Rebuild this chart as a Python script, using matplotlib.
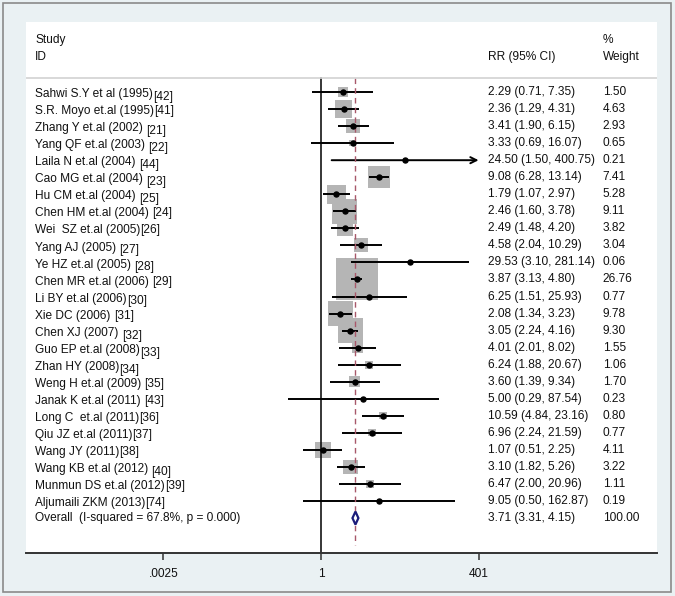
import numpy as np
import matplotlib.pyplot as plt
from matplotlib.patches import Polygon, Rectangle

plt.rcParams['font.family'] = ['Liberation Sans', 'DejaVu Sans']

studies = ["Sahwi S.Y et al (1995)", "S.R. Moyo et.al (1995)", "Zhang Y et.al (2002) ",
           "Yang QF et.al (2003) ", "Laila N et.al (2004) ", "Cao MG et.al (2004) ",
           "Hu CM et.al (2004) ", "Chen HM et.al (2004) ", "Wei  SZ et.al (2005)",
           "Yang AJ (2005) ", "Ye HZ et.al (2005) ", "Chen MR et.al (2006) ",
           "Li BY et.al (2006)", "Xie DC (2006) ", "Chen XJ (2007) ",
           "Guo EP et.al (2008)", "Zhan HY (2008)", "Weng H et.al (2009) ",
           "Janak K et.al (2011) ", "Long C  et.al (2011)", "Qiu JZ et.al (2011)",
           "Wang JY (2011)", "Wang KB et.al (2012) ", "Munmun DS et.al (2012)",
           "Aljumaili ZKM (2013)"]
refs = ["[42]", "[41]", "[21]", "[22]", "[44]", "[23]", "[25]", "[24]", "[26]", "[27]",
        "[28]", "[29]", "[30]", "[31]", "[32]", "[33]", "[34]", "[35]", "[43]", "[36]",
        "[37]", "[38]", "[40]", "[39]", "[74]"]
# which reference numbers sit a bit below the baseline
ref_low = [1, 0, 1, 1, 1, 1, 1, 0, 0, 1, 1, 0, 1, 0, 1, 1, 1, 0, 0, 0, 0, 0, 1, 0, 0]

rr = [2.29, 2.36, 3.41, 3.33, 24.50, 9.08, 1.79, 2.46, 2.49, 4.58, 29.53, 3.87, 6.25,
      2.08, 3.05, 4.01, 6.24, 3.60, 5.00, 10.59, 6.96, 1.07, 3.10, 6.47, 9.05]
lo = [0.71, 1.29, 1.90, 0.69, 1.50, 6.28, 1.07, 1.60, 1.48, 2.04, 3.10, 3.13, 1.51,
      1.34, 2.24, 2.01, 1.88, 1.39, 0.29, 4.84, 2.24, 0.51, 1.82, 2.00, 0.50]
hi = [7.35, 4.31, 6.15, 16.07, 400.75, 13.14, 2.97, 3.78, 4.20, 10.29, 281.14, 4.80, 25.93,
      3.23, 4.16, 8.02, 20.67, 9.34, 87.54, 23.16, 21.59, 2.25, 5.26, 20.96, 162.87]
weight = [1.50, 4.63, 2.93, 0.65, 0.21, 7.41, 5.28, 9.11, 3.82, 3.04, 0.06, 26.76, 0.77,
          9.78, 9.30, 1.55, 1.06, 1.70, 0.23, 0.80, 0.77, 4.11, 3.22, 1.11, 0.19]

overall_label = "Overall  (I-squared = 67.8%, p = 0.000)"
overall_rr, overall_lo, overall_hi = 3.71, 3.31, 4.15

tick_vals = [0.0025, 1, 401]
tick_labels = [".0025", "1", "401"]
ci_cap = 400  # CIs beyond this get an arrow

bg = "#eaf1f3"
fs = 8.6

fig = plt.figure(figsize=(6.75, 5.96), dpi=100, facecolor=bg)
fig.patches.append(Rectangle((3 / 675, 4 / 596), 668 / 675, 589 / 596, transform=fig.transFigure,
                             fill=False, edgecolor="#8a8a8a", linewidth=1.2))
ax = fig.add_axes([26 / 675, 43 / 596, 631 / 675, 531 / 596])
ax.set_facecolor("white")

n = len(rr)
rows = np.arange(n)
ax.set_xscale("log")
ax.set_xlim(np.exp(-11.22), np.exp(12.78))
ax.set_ylim(27.05, -4.11)

# boxes, CI lines, points
ax.scatter(rr, rows, s=np.array(weight) * 34.2, marker="s", color="#b5b5b5", linewidths=0, zorder=1)
for i in range(n):
    if hi[i] > ci_cap:
        ax.annotate("", xy=(tick_vals[-1], i), xytext=(lo[i], i),
                    arrowprops=dict(arrowstyle="->", lw=1.4, color="black", mutation_scale=11,
                                    shrinkA=0, shrinkB=0), zorder=2)
    else:
        ax.plot([lo[i], hi[i]], [i, i], color="black", lw=1.4, solid_capstyle="butt", zorder=2)
ax.plot(rr, rows, "o", color="black", ms=3.6, zorder=3)

# overall diamond and reference lines
ax.plot([1, 1], [-0.82, 27.05], color="black", lw=1.1, zorder=2)
ax.plot([overall_rr, overall_rr], [-0.82, 26.6], color="#a8586a", lw=1, ls=(0, (4, 3)), zorder=2)
dh = 0.38
diamond = Polygon([[overall_lo, n], [overall_rr, n - dh], [overall_hi, n], [overall_rr, n + dh]],
                  closed=True, facecolor="white", edgecolor="#1c1c7a", lw=1.6, zorder=4)
ax.add_patch(diamond)

# header line
ax.axhline(-0.82, color="#d2d2d2", lw=1.2)

tr = ax.get_yaxis_transform()
tc = "#111111"
x_lab, x_rr, x_w = 0.0143, 0.732, 0.914
ax.text(x_lab, -3.05, "Study", transform=tr, fontsize=fs, va="center", color=tc)
ax.text(x_lab, -2.05, "ID", transform=tr, fontsize=fs, va="center", color=tc)
ax.text(x_rr, -2.05, "RR (95% CI)", transform=tr, fontsize=fs, va="center", color=tc)
ax.text(x_w, -3.05, "%", transform=tr, fontsize=fs, va="center", color=tc)
ax.text(x_w, -2.05, "Weight", transform=tr, fontsize=fs, va="center", color=tc)

for i in range(n):
    t = ax.text(x_lab, i + 0.3, studies[i], transform=tr, fontsize=fs, va="baseline", color=tc)
    ax.annotate(refs[i], xy=(1, 0), xycoords=t, xytext=(0, -2.0 if ref_low[i] else 0),
                textcoords="offset points", fontsize=fs, va="bottom", color=tc)
    ax.text(x_rr, i, "%.2f (%.2f, %.2f)" % (rr[i], lo[i], hi[i]), transform=tr,
            fontsize=fs, va="center", color=tc)
    ax.text(x_w, i, "%.2f" % weight[i], transform=tr, fontsize=fs, va="center", color=tc)

ax.text(x_lab, n, overall_label, transform=tr, fontsize=fs, va="center", color=tc)
ax.text(x_rr, n, "%.2f (%.2f, %.2f)" % (overall_rr, overall_lo, overall_hi), transform=tr,
        fontsize=fs, va="center", color=tc)
ax.text(x_w, n, "100.00", transform=tr, fontsize=fs, va="center", color=tc)

for s in ["top", "left", "right"]:
    ax.spines[s].set_visible(False)
ax.spines["bottom"].set_color("#333333")
ax.spines["bottom"].set_linewidth(1.4)
ax.set_yticks([])
ax.set_xticks(tick_vals)
ax.set_xticklabels(tick_labels)
ax.minorticks_off()
ax.tick_params(axis="x", length=5, width=1.1, labelsize=fs, pad=5.5, colors="#333333",
               labelcolor=tc)

fig.savefig("out.png", dpi=100, facecolor=bg)
